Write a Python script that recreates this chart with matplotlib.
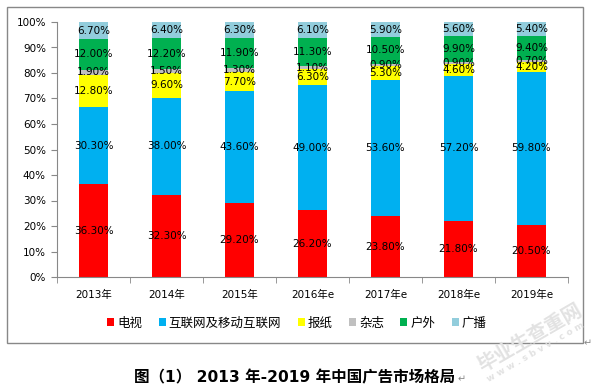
import matplotlib.pyplot as plt
import matplotlib.patches as mpatches
import numpy as np

plt.rcParams['font.family'] = ['DejaVu Sans', 'Noto Sans CJK SC']

# data
years = ['2013年', '2014年', '2015年', '2016年e', '2017年e', '2018年e', '2019年e']
series_names = ['电视', '互联网及移动互联网', '报纸', '杂志', '户外', '广播']
tv = [36.3, 32.3, 29.2, 26.2, 23.8, 21.8, 20.5]
internet = [30.3, 38.0, 43.6, 49.0, 53.6, 57.2, 59.8]
newspaper = [12.8, 9.6, 7.7, 6.3, 5.3, 4.6, 4.2]
magazine = [1.9, 1.5, 1.3, 1.1, 0.9, 0.9, 0.7]
outdoor = [12.0, 12.2, 11.9, 11.3, 10.5, 9.9, 9.4]
radio = [6.7, 6.4, 6.3, 6.1, 5.9, 5.6, 5.4]
colors = ['#FF0000', '#00B0F0', '#FFFF00', '#C0C0C0', '#00B050', '#92CDDC']

fig = plt.figure(figsize=(5.98, 3.88), dpi=100)
ax = fig.add_axes([57/598, 1-277/388, (568-57)/598, (277-22)/388])

x = np.arange(len(years))
bottom = np.zeros(len(years))
handles = []
for vals, name, c in zip([tv, internet, newspaper, magazine, outdoor, radio], series_names, colors):
    vals = np.array(vals)
    b = ax.bar(x, vals, 0.4, bottom=bottom, color=c, label=name)
    handles.append(b)
    for xi, v, bt in zip(x, vals, bottom):
        ax.text(xi, bt + v/2, '%.2f%%' % v, ha='center', va='center', fontsize=7.5)
    bottom += vals

ax.set_xlim(-0.5, len(years) - 0.5)
ax.set_ylim(0, 100)
ax.set_yticks(range(0, 101, 10))
ax.set_yticklabels(['%d%%' % t for t in range(0, 101, 10)], fontsize=7.5)
ax.set_xticks(x)
ax.set_xticklabels(years, fontsize=7.5)
ax.set_xticks(np.arange(-0.5, len(years)), minor=True)
ax.tick_params(axis='x', which='major', length=0, pad=9)
ax.tick_params(axis='x', which='minor', length=4, color='#888888', direction='out')
ax.tick_params(axis='y', length=4, color='#888888', direction='out', pad=4)
for s in ['top', 'right']:
    ax.spines[s].set_visible(False)
ax.spines['left'].set_color('#888888')
ax.spines['bottom'].set_color('#888888')

# legend
fig.legend(handles=handles, labels=series_names, loc='center', bbox_to_anchor=(297/598, 1-323/388),
           ncol=6, frameon=False, prop={'family': 'Noto Sans CJK SC', 'size': 9},
           handlelength=0.56, handleheight=0.56, handletextpad=0.25, columnspacing=1.3)

# outer chart frame
fig.patches.append(mpatches.Rectangle((7/598, 1-343/388), (583-7)/598, (343-7)/388,
                                      transform=fig.transFigure, fill=False,
                                      edgecolor='#888888', linewidth=1))
fig.text(584/598, 1-343/388, '↵', fontsize=7, color='#888888', ha='left', va='center')

# watermark
fig.text(530/598, 1-338/388, '毕业生查重网', fontsize=14, color='#e2e2e2', rotation=30,
         ha='center', va='center', fontweight='bold', family='Noto Sans CJK SC')
fig.text(536/598, 1-352/388, 'w w w . s b v v . c o m', fontsize=6.5, color='#e2e2e2',
         rotation=30, ha='center', va='center', fontweight='bold')

# caption
fig.text(295/598, 1-378/388, '图（1） 2013 年-2019 年中国广告市场格局', fontsize=11.2,
         fontweight='bold', ha='center', va='center')
fig.text(458/598, 1-379/388, '↵', fontsize=7, color='#888888', ha='left', va='center')

fig.savefig('out.png', dpi=100)
